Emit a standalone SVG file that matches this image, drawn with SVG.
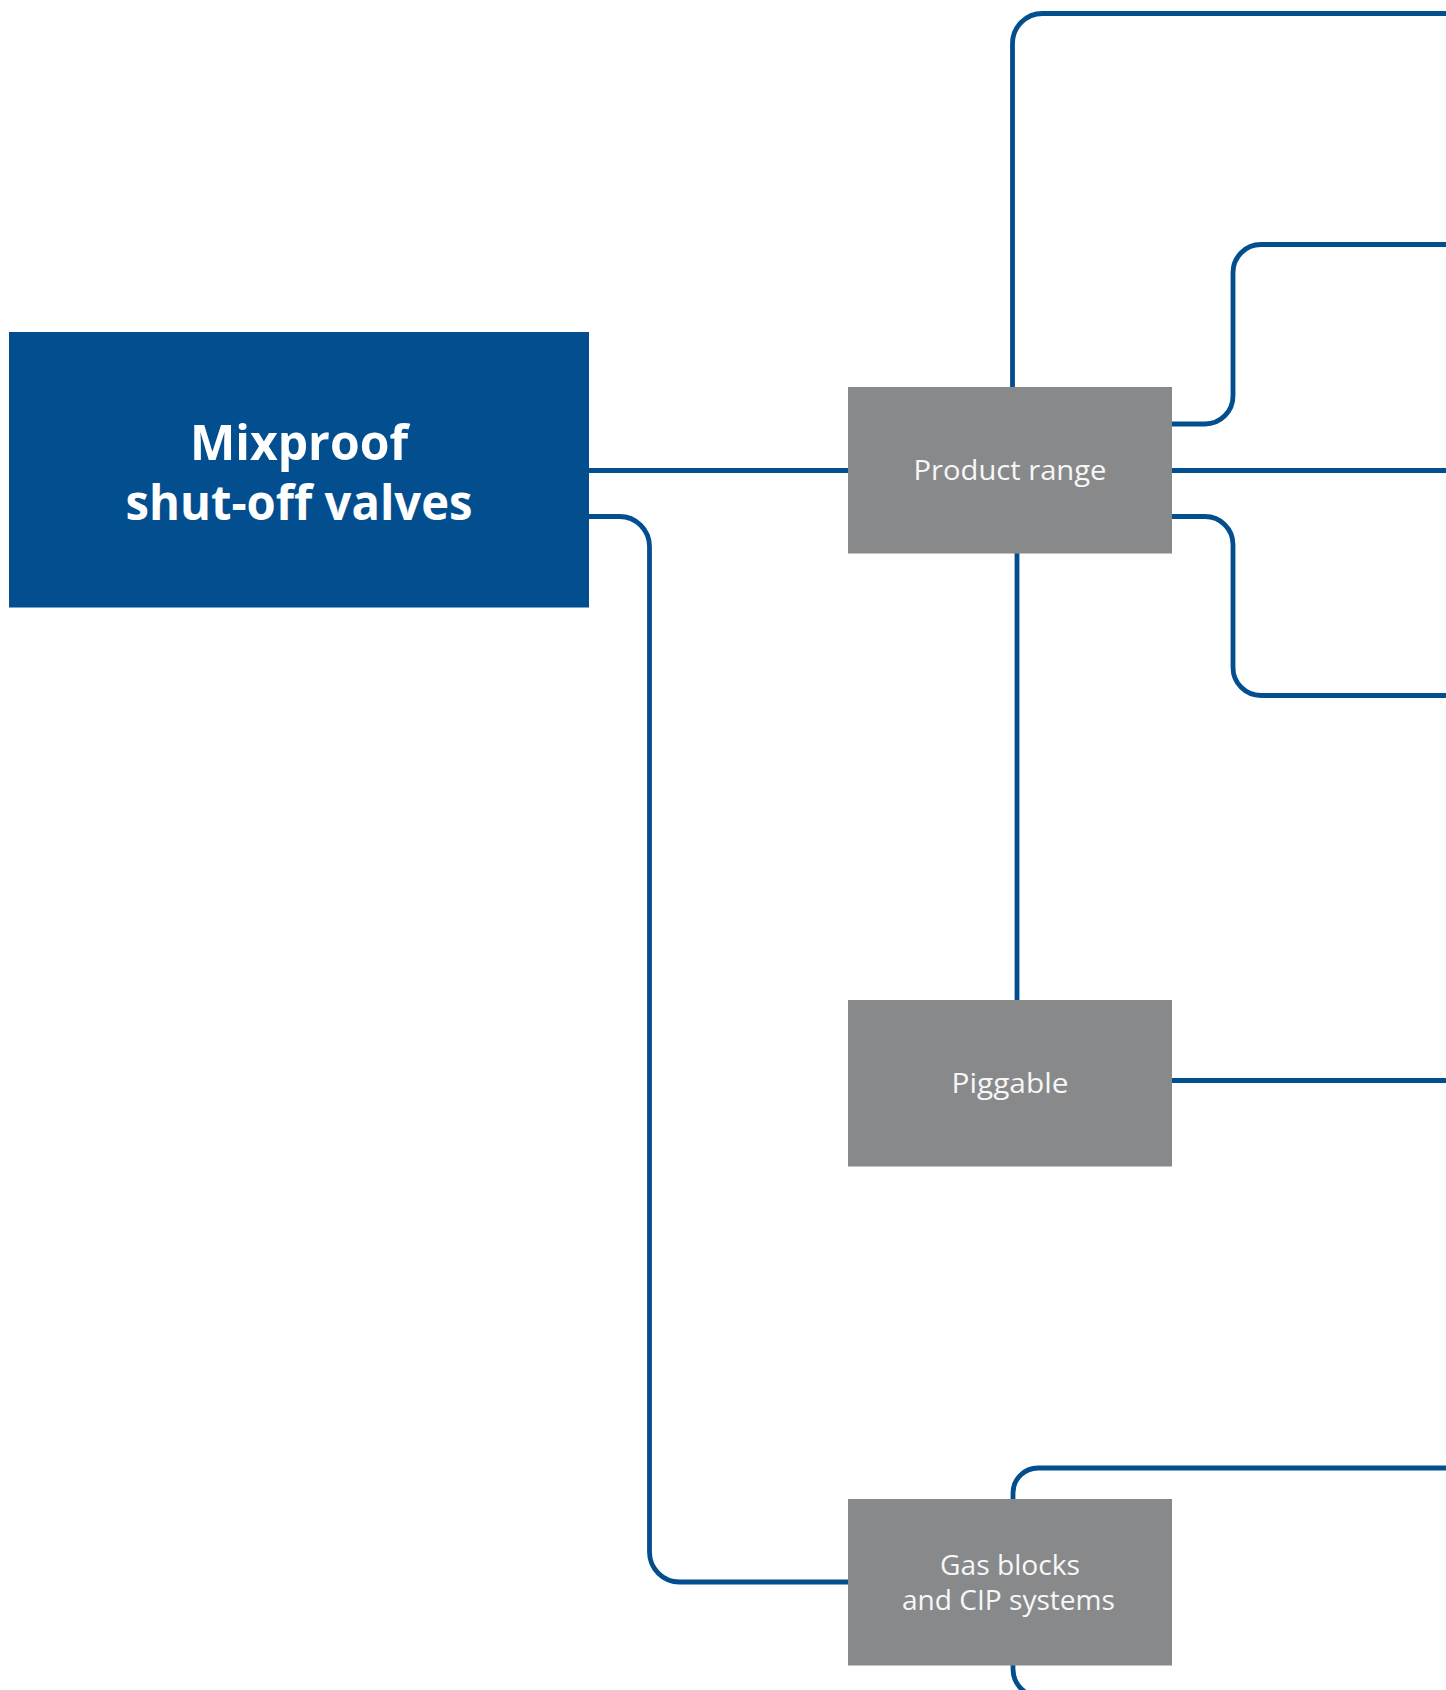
<svg xmlns="http://www.w3.org/2000/svg" width="1446" height="1690" viewBox="0 0 1446 1690">
<style>
.conn{fill:none;stroke:#024e8e;stroke-width:4.8}
.main{fill:#024e8e}
.sub{fill:#88898b}
.tmain{font-family:"Open Sans","Liberation Sans",sans-serif;font-weight:700;font-size:48px;fill:#ffffff;text-anchor:middle}
.tsub{font-family:"Open Sans","Liberation Sans",sans-serif;font-weight:400;font-size:28px;fill:#f7f7f7;text-anchor:middle}
</style>
<rect width="1446" height="1690" fill="#ffffff"/>
<g id="connectors">
<path class="conn" d="M588,470.5 H848"/>
<path class="conn" d="M588,516.5 H619.5 A30,30 0 0 1 649.5,546.5 V1552 A30,30 0 0 0 679.5,1582 H848"/>
<path class="conn" d="M1012.5,387 V43.5 A30,30 0 0 1 1042.5,13.5 H1446"/>
<path class="conn" d="M1172,424 H1205 A28,28 0 0 0 1233,396 V272.5 A28,28 0 0 1 1261,244.5 H1446"/>
<path class="conn" d="M1172,470.5 H1446"/>
<path class="conn" d="M1172,516.5 H1205 A28,28 0 0 1 1233,544.5 V667.5 A28,28 0 0 0 1261,695.5 H1446"/>
<path class="conn" d="M1017,553 V1000"/>
<path class="conn" d="M1172,1080.5 H1446"/>
<path class="conn" d="M1013,1499 V1493 A25,25 0 0 1 1038,1468 H1446"/>
<path class="conn" d="M1013,1665 V1669 A28,28 0 0 0 1041,1697 H1446"/>
</g>
<g id="node-main">
<rect class="main" x="9" y="332" width="580" height="275.5"/>
<text class="tmain" x="299" y="459.5" textLength="218" lengthAdjust="spacingAndGlyphs">Mixproof</text>
<text class="tmain" x="299" y="519.5" textLength="347" lengthAdjust="spacingAndGlyphs">shut-off valves</text>
</g>
<g id="node-product-range">
<rect class="sub" x="848" y="387" width="324" height="166.5"/>
<text class="tsub" x="1010" y="480" textLength="193" lengthAdjust="spacingAndGlyphs">Product range</text>
</g>
<g id="node-piggable">
<rect class="sub" x="848" y="1000" width="324" height="166.5"/>
<text class="tsub" x="1010" y="1093" textLength="117" lengthAdjust="spacingAndGlyphs">Piggable</text>
</g>
<g id="node-gas-blocks">
<rect class="sub" x="848" y="1499" width="324" height="166.5"/>
<text class="tsub" x="1010" y="1574.5" textLength="140" lengthAdjust="spacingAndGlyphs">Gas blocks</text>
<text class="tsub" x="1008.5" y="1610" textLength="213" lengthAdjust="spacingAndGlyphs">and CIP systems</text>
</g>
</svg>
